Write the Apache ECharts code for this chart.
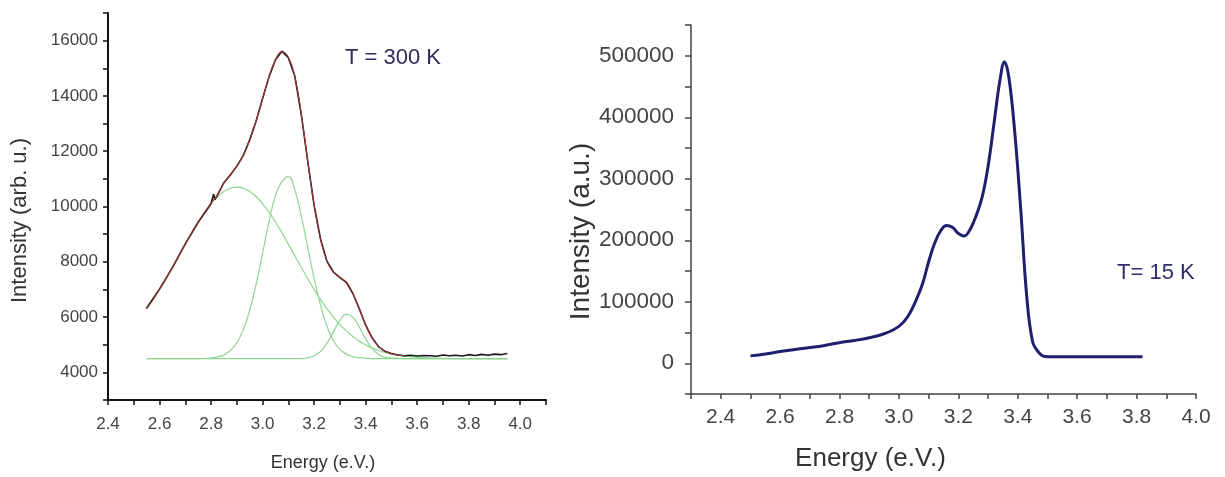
<!DOCTYPE html>
<html>
<head>
<meta charset="utf-8">
<script src="https://cdn.jsdelivr.net/npm/echarts@6/dist/echarts.min.js"></script>
<style>
  html, body { margin: 0; background: #fff; }
  #chart { width: 1225px; height: 477px; }
</style>
</head>
<body>
<div id="chart"></div>
<script>
// ---- left panel: T = 300 K, measured PL + gaussian fit ----
const fitEnergy = [2.55, 2.6, 2.65, 2.7, 2.75, 2.8, 2.825, 2.85, 2.875, 2.9, 2.925, 2.95, 2.975, 3.0,
    3.025, 3.05, 3.075, 3.1, 3.125, 3.15, 3.175, 3.2, 3.225, 3.25, 3.275, 3.3, 3.325, 3.35, 3.375,
    3.4, 3.425, 3.45, 3.475, 3.5, 3.55, 3.6, 3.65, 3.7, 3.75, 3.8, 3.85, 3.9, 3.95];
const fitTotal = [6300, 7000, 7800, 8640, 9440, 10120, 10420, 10850, 11150, 11450, 11850, 12400, 13100,
    13900, 14700, 15300, 15600, 15400, 14700, 13350, 11650, 10050, 8810, 8025, 7620, 7440, 7255, 6870,
    6305, 5720, 5240, 4940, 4770, 4675, 4600];
const peakBroad = [6300, 7000, 7800, 8640, 9440, 10100, 10360, 10545, 10660, 10700, 10660, 10545, 10360,
    10100, 9795, 9440, 9050, 8640, 8220, 7800, 7390, 7000, 6630, 6300, 6000, 5730, 5500, 5300, 5130,
    5000, 4880, 4790, 4720, 4660, 4590, 4550, 4520, 4510, 4500, 4500, 4500, 4500, 4500];
const peakMid = [4500, 4500, 4500, 4500, 4500, 4520, 4560, 4630, 4790, 5070, 5545, 6250, 7190, 8310,
    9450, 10400, 10900, 11080, 10600, 9660, 8540, 7400, 6420, 5670, 5150, 4830, 4660, 4570, 4530,
    4510, 4500, 4500, 4500, 4500, 4500, 4500, 4500, 4500, 4500, 4500, 4500, 4500, 4500];
const peakHigh = [4500, 4500, 4500, 4500, 4500, 4500, 4500, 4500, 4500, 4500, 4500, 4500, 4500, 4500,
    4500, 4500, 4500, 4500, 4500, 4500, 4530, 4600, 4760, 5055, 5470, 5880, 6095, 6000, 5645,
    5210, 4860, 4650, 4550, 4515, 4500, 4500, 4500, 4500, 4500, 4500, 4500, 4500, 4500];

const measEnergy = [2.55, 2.6, 2.65, 2.7, 2.75, 2.8, 2.81, 2.815, 2.825, 2.85, 2.875, 2.9, 2.925, 2.95,
    2.975, 3.0, 3.025, 3.05, 3.075, 3.1, 3.125, 3.15, 3.175, 3.2, 3.225, 3.25, 3.275, 3.3, 3.325, 3.35,
    3.375, 3.4, 3.425, 3.45, 3.475, 3.5, 3.525, 3.55, 3.575, 3.6, 3.625, 3.65, 3.675, 3.7, 3.725, 3.75,
    3.775, 3.8, 3.825, 3.85, 3.875, 3.9, 3.925, 3.95];
const measIntensity = [6330, 7010, 7790, 8650, 9430, 10100, 10450, 10250, 10420, 10860, 11140, 11460,
    11840, 12410, 13090, 13910, 14690, 15310, 15620, 15380, 14720, 13340, 11660, 10040, 8820, 8010,
    7630, 7430, 7260, 6860, 6310, 5710, 5250, 4930, 4760, 4680, 4630, 4600, 4620, 4590, 4610, 4600,
    4580, 4630, 4600, 4620, 4590, 4640, 4610, 4650, 4620, 4660, 4640, 4680];

// ---- right panel: T = 15 K ----
const lowTEnergy = [2.5, 2.55, 2.6, 2.65, 2.7, 2.75, 2.8, 2.85, 2.9, 2.95, 3.0, 3.03, 3.06, 3.08, 3.1,
    3.12, 3.14, 3.16, 3.18, 3.2, 3.22, 3.24, 3.26, 3.28, 3.3, 3.32, 3.34, 3.355, 3.37, 3.39, 3.41,
    3.43, 3.45, 3.47, 3.49, 3.55, 3.65, 3.75, 3.82];
const lowTIntensity = [12000, 15000, 19000, 22500, 25500, 29000, 33500, 37000, 41500, 48000, 60000,
    76000, 105000, 130000, 165000, 195000, 215000, 224000, 221000, 211000, 207000, 218000, 240000,
    270000, 320000, 390000, 460000, 490000, 465000, 375000, 250000, 110000, 35000, 18000, 11000,
    10500, 10500, 10500, 10500];

const zip = (xs, ys) => ys.map((y, i) => [xs[i], y]);

const font = "Liberation Sans";
const tenth = (v) => Math.round(v * 10);

const chart = echarts.init(document.getElementById("chart"));

const option = {
    animation: false,
    backgroundColor: "#fff",
    grid: [
        { left: 108, top: 13, width: 438, height: 390 },
        { left: 691, top: 25, width: 505, height: 375 },
    ],
    xAxis: [
        {
            gridIndex: 0,
            type: "value",
            min: 2.4,
            max: 4.1,
            interval: 0.1,
            name: "Energy (e.V.)",
            nameLocation: "middle",
            nameGap: 54,
            nameTextStyle: { fontFamily: font, fontSize: 18, color: "#333", padding: [0, 8, 0, 0] },
            axisLine: { onZero: false, lineStyle: { color: "#111", width: 2 } },
            axisTick: { length: 5, lineStyle: { color: "#111", width: 1.5 } },
            axisLabel: {
                margin: 16,
                fontFamily: font,
                fontSize: 17,
                color: "#444",
                formatter: (v) => (tenth(v) % 2 === 0 && v < 4.05 ? v.toFixed(1) : ""),
            },
            splitLine: { show: false },
        },
        {
            gridIndex: 1,
            type: "value",
            min: 2.3,
            max: 4.0,
            interval: 0.1,
            name: "Energy (e.V.)",
            nameLocation: "middle",
            nameGap: 52,
            nameTextStyle: { fontFamily: font, fontSize: 26, color: "#333", padding: [0, 146, 0, 0] },
            axisLine: { onZero: false, lineStyle: { color: "#444", width: 1.5 } },
            axisTick: { length: 5, lineStyle: { color: "#444", width: 1.5 } },
            axisLabel: {
                margin: 13,
                fontFamily: font,
                fontSize: 21,
                color: "#444",
                formatter: (v) => (tenth(v) % 2 === 0 ? v.toFixed(1) : ""),
            },
            splitLine: { show: false },
        },
    ],
    yAxis: [
        {
            gridIndex: 0,
            type: "value",
            min: 3000,
            max: 17000,
            interval: 1000,
            name: "Intensity (arb. u.)",
            nameLocation: "middle",
            nameGap: 77,
            nameTextStyle: { fontFamily: font, fontSize: 22, color: "#333", padding: [0, 28, 0, 0] },
            axisLine: { show: true, onZero: false, lineStyle: { color: "#111", width: 2 } },
            axisTick: { length: 5, lineStyle: { color: "#111", width: 1.5 } },
            axisLabel: {
                margin: 10,
                fontFamily: font,
                fontSize: 17,
                color: "#444",
                formatter: (v) => (v % 2000 === 0 && v >= 4000 && v <= 16000 ? String(v) : ""),
            },
            splitLine: { show: false },
        },
        {
            gridIndex: 1,
            type: "value",
            min: -50000,
            max: 550000,
            interval: 50000,
            name: "Intensity (a.u.)",
            nameLocation: "middle",
            nameGap: 96,
            nameTextStyle: { fontFamily: font, fontSize: 28, color: "#333", padding: [0, 44, 0, 0] },
            axisLine: { show: true, onZero: false, lineStyle: { color: "#444", width: 1.5 } },
            axisTick: { length: 6, lineStyle: { color: "#444", width: 1.5 } },
            axisLabel: {
                margin: 17,
                fontFamily: font,
                fontSize: 22.5,
                color: "#444",
                formatter: (v) => (v % 100000 === 0 && v >= 0 && v <= 500000 ? String(v) : ""),
            },
            splitLine: { show: false },
        },
    ],
    graphic: [
        {
            type: "text",
            left: 345,
            top: 47,
            style: { text: "T = 300 K", fontFamily: font, fontSize: 22, fill: "#2d2d5a" },
        },
        {
            type: "text",
            left: 1117,
            top: 262,
            style: { text: "T= 15 K", fontFamily: font, fontSize: 22, fill: "#2d2d6e" },
        },
    ],
    series: [
        {
            name: "broad",
            type: "line",
            xAxisIndex: 0,
            yAxisIndex: 0,
            symbol: "none",
            smooth: true,
            lineStyle: { color: "#8fd48f", width: 1.2 },
            data: zip(fitEnergy, peakBroad),
        },
        {
            name: "mid",
            type: "line",
            xAxisIndex: 0,
            yAxisIndex: 0,
            symbol: "none",
            smooth: true,
            lineStyle: { color: "#8fd48f", width: 1.2 },
            data: zip(fitEnergy, peakMid),
        },
        {
            name: "high",
            type: "line",
            xAxisIndex: 0,
            yAxisIndex: 0,
            symbol: "none",
            smooth: true,
            lineStyle: { color: "#8fd48f", width: 1.2 },
            data: zip(fitEnergy, peakHigh),
        },
        {
            name: "measured",
            type: "line",
            xAxisIndex: 0,
            yAxisIndex: 0,
            symbol: "none",
            lineStyle: { color: "#1a1a1a", width: 1.6 },
            data: zip(measEnergy, measIntensity),
        },
        {
            name: "fit",
            type: "line",
            xAxisIndex: 0,
            yAxisIndex: 0,
            symbol: "none",
            smooth: true,
            lineStyle: { color: "#a03333", width: 1.1 },
            data: zip(fitEnergy, fitTotal),
        },
        {
            name: "15 K",
            type: "line",
            xAxisIndex: 1,
            yAxisIndex: 1,
            symbol: "none",
            smooth: 0.4,
            lineStyle: { color: "#1f1f6e", width: 3 },
            data: zip(lowTEnergy, lowTIntensity),
        },
    ],
};

chart.setOption(option);
</script>
</body>
</html>
